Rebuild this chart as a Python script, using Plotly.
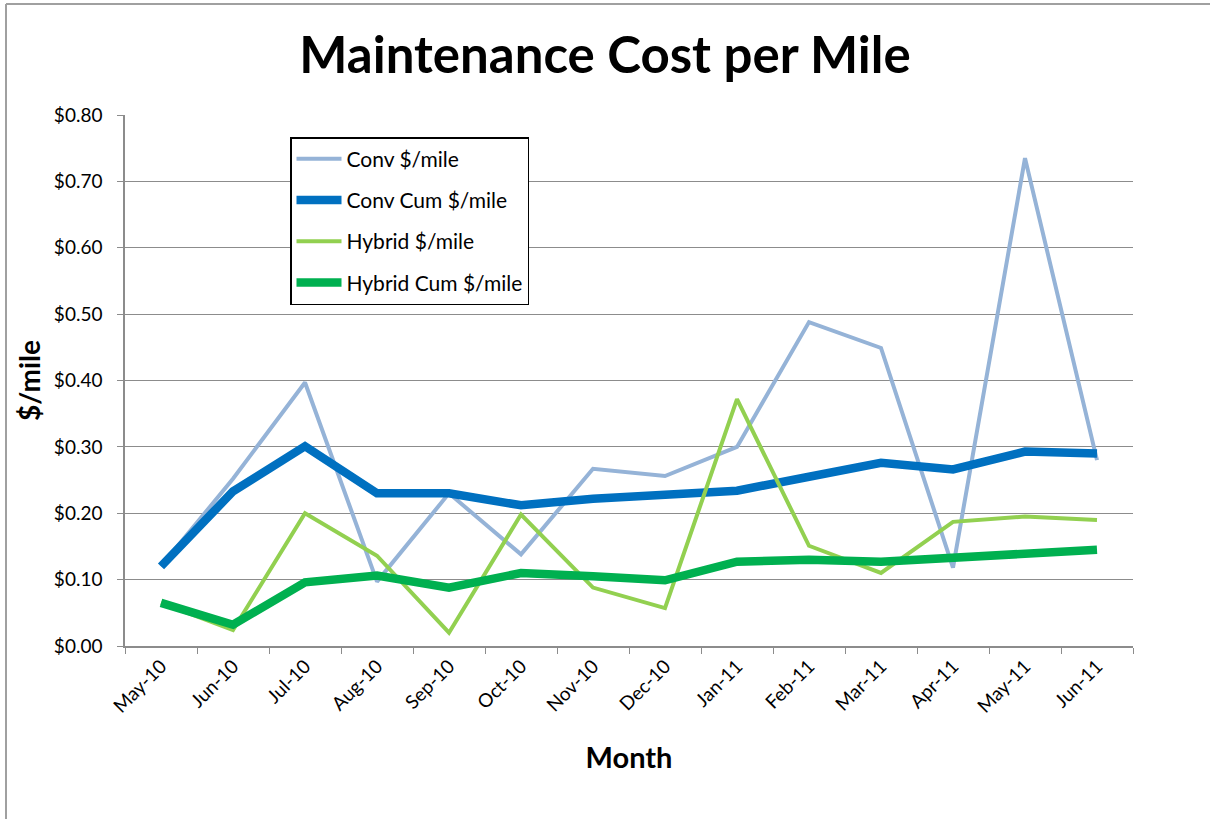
import plotly.graph_objects as go

months = ['May-10', 'Jun-10', 'Jul-10', 'Aug-10', 'Sep-10', 'Oct-10', 'Nov-10',
          'Dec-10', 'Jan-11', 'Feb-11', 'Mar-11', 'Apr-11', 'May-11', 'Jun-11']

conv = [0.120, 0.252, 0.397, 0.097, 0.230, 0.138, 0.267,
        0.256, 0.300, 0.488, 0.449, 0.118, 0.735, 0.280]
conv_cum = [0.120, 0.233, 0.301, 0.230, 0.230, 0.212, 0.222,
            0.227, 0.234, 0.255, 0.276, 0.266, 0.293, 0.290]
hybrid = [0.065, 0.024, 0.200, 0.136, 0.020, 0.198, 0.088,
          0.057, 0.372, 0.151, 0.110, 0.187, 0.195, 0.190]
hybrid_cum = [0.065, 0.032, 0.096, 0.106, 0.088, 0.110, 0.105,
              0.099, 0.127, 0.130, 0.127, 0.134, 0.140, 0.145]

FONT = 'Lato'

fig = go.Figure()

series = [
    ('Conv $/mile', conv, '#95B3D7', 4),
    ('Conv Cum $/mile', conv_cum, '#0070C0', 8.5),
    ('Hybrid $/mile', hybrid, '#92D050', 4),
    ('Hybrid Cum $/mile', hybrid_cum, '#00B050', 8.5),
]
for name, vals, color, width in series:
    fig.add_trace(go.Scatter(
        x=months, y=vals, name=name, mode='lines',
        legendgroup=name,
        line=dict(color=color, width=width)
    ))

# margins in pixels (plot area 125..1133 x 115..646)
L, R, T, B = 125, 77, 115, 173
W, H = 1210, 819
pw, ph = W - L - R, H - T - B

def px_x(x):
    return (x - L) / pw

def px_y(y):
    return 1 - (y - T) / ph

fig.update_layout(
    width=W, height=H,
    margin=dict(l=L, r=R, t=T, b=B),
    paper_bgcolor='white', plot_bgcolor='white',
    font=dict(family=FONT, color='black'),
    title=dict(text='<b>Maintenance Cost per Mile</b>', x=0.5, xanchor='center',
               y=1 - 55 / H, yanchor='middle', font=dict(size=51, family=FONT)),
    showlegend=True,
    legend=dict(
        x=px_x(290), y=px_y(137), xanchor='left', yanchor='top',
        bordercolor='black', borderwidth=1.5, bgcolor='white',
        font=dict(size=21, family=FONT),
        traceorder='grouped', tracegroupgap=11, itemwidth=45
    ),
    xaxis=dict(
        type='category', range=[-0.5, 13.5],
        showline=True, linecolor='#8c8c8c', linewidth=1.5,
        ticks='outside', tickson='boundaries', ticklen=6, tickcolor='#8c8c8c',
        showgrid=False, tickangle=-45, tickfont=dict(size=19, family=FONT),
        title=dict(text='<b>Month</b>', font=dict(size=29, family=FONT), standoff=32)
    ),
    yaxis=dict(
        range=[0, 0.8], dtick=0.1, tickformat='$.2f',
        showline=True, linecolor='#8c8c8c', linewidth=1.5,
        ticks='outside', ticklen=6, tickcolor='#8c8c8c', ticklabelstandoff=11,
        showgrid=True, gridcolor='#8c8c8c', gridwidth=1.2, zeroline=False,
        tickfont=dict(size=19, family=FONT),
        title=dict(text='<b>$/mile</b>', font=dict(size=28, family=FONT), standoff=5)
    ),
)

# outer chart frame: only the top and left edges are visible
frame = dict(color='#a0a0a0', width=2)
fig.add_shape(type='line', xref='paper', yref='paper',
              x0=px_x(6), x1=px_x(1212), y0=px_y(4), y1=px_y(4), line=frame)
fig.add_shape(type='line', xref='paper', yref='paper',
              x0=px_x(6), x1=px_x(6), y0=px_y(4), y1=px_y(822), line=frame)

fig.write_html('out.html', config={'displayModeBar': False},
               post_script="document.body.style.margin='0';document.body.style.padding='0';")
